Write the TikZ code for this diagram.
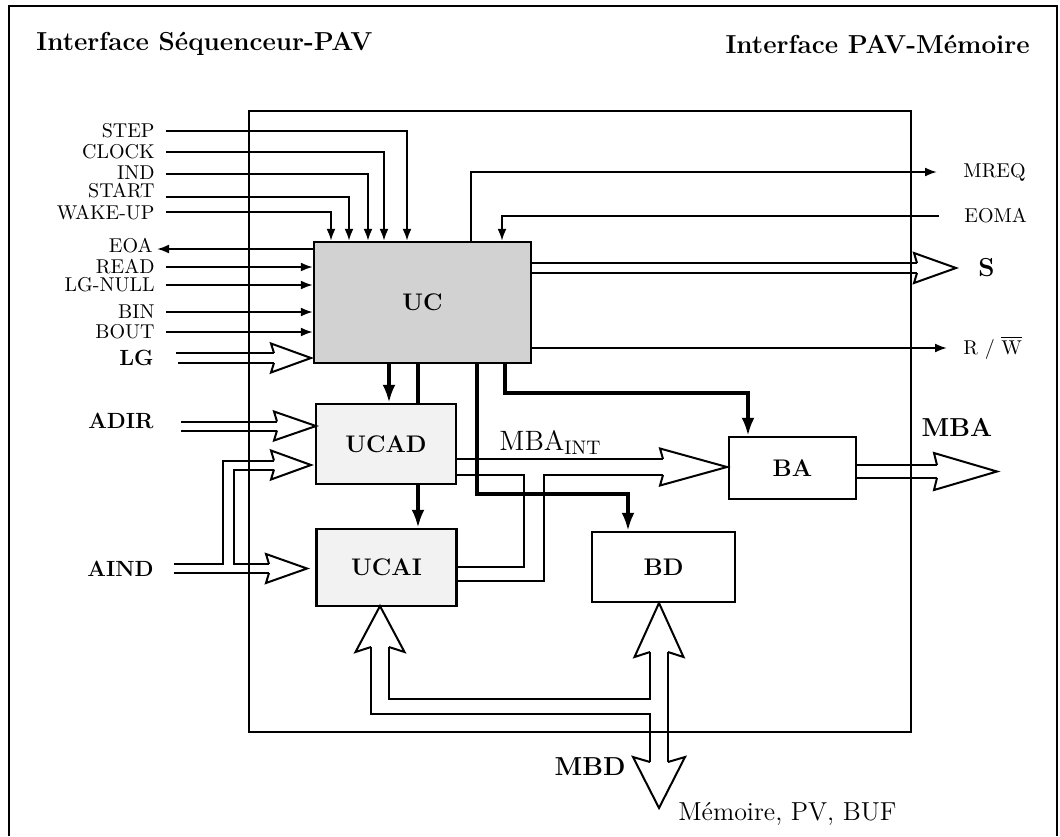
\documentclass[tikz,border=0pt]{standalone}
\usepackage{amsmath}
\usetikzlibrary{arrows.meta}

% 空心总线箭头（向右 / 向上 / 向下）
\newcommand{\busE}[5]{\draw[bus] ({#1},{#2-#4}) -- ({#1-3},{#2-#5}) -- ({#3},{#2}) -- ({#1-3},{#2+#5}) -- ({#1},{#2+#4});}
\newcommand{\busN}[5]{\draw[bus] ({#2-#4},{#1}) -- ({#2-#5},{#1+5}) -- ({#2},{#3}) -- ({#2+#5},{#1+5}) -- ({#2+#4},{#1});}
\newcommand{\busS}[5]{\draw[bus] ({#2-#4},{#1}) -- ({#2-#5},{#1-5}) -- ({#2},{#3}) -- ({#2+#5},{#1-5}) -- ({#2+#4},{#1});}

\begin{document}
\begin{tikzpicture}[x=0.5pt,y=-0.5pt,
    sig/.style={line width=1pt,-{Latex[length=6pt,width=4.5pt]}},
    ctl/.style={line width=2.2pt},
    ctlarr/.style={line width=2.2pt,-{Latex[length=9pt,width=6.5pt]}},
    bus/.style={line width=1pt,line join=miter},
    lbl/.style={font=\normalsize,inner sep=0pt},
    blbl/.style={font=\fontsize{11}{13}\selectfont\bfseries,inner sep=0pt},
    gros/.style={font=\fontsize{13}{15}\selectfont\bfseries,inner sep=0pt},
    blk/.style={draw,line width=1.2pt,inner sep=0pt,font=\fontsize{12}{14}\selectfont\bfseries}]
    \useasboundingbox (0,0) rectangle (1060,836);

    % 外框
    \draw[line width=1.2pt] (9,836) -- (9,6) -- (1057,6) -- (1057,836);

    % 标题
    \node[gros,anchor=west] (tseq) at (36,44) {Interface Séquenceur-PAV};
    \node[gros,anchor=east] (tmem) at (1030,44) {Interface PAV-Mémoire};

    % PAV 边框
    \draw[line width=1.1pt] (249,111) rectangle (911,732);

    % 模块
    \node[blk,fill=gray!35,minimum width=108.5pt,minimum height=60.5pt] (uc) at (422.5,302.5) {UC};
    \node[blk,fill=gray!10,minimum width=70pt,minimum height=40pt] (ucad) at (386,444) {UCAD};
    \node[blk,fill=gray!10,minimum width=70pt,minimum height=38.5pt] (ucai) at (386.5,567.5) {UCAI};
    \node[blk,minimum width=63.5pt,minimum height=31pt] (ba) at (792.5,468) {BA};
    \node[blk,minimum width=71.5pt,minimum height=35pt] (bd) at (663.5,567) {BD};

    % 上方输入信号
    \foreach \nom/\txt/\ly/\y/\x in {step/STEP/131/131/407, clock/CLOCK/152/152/384, ind/IND/173/174/368,
                                    start/START/191/197/349, wake/WAKE-UP/213/212/331}{
        \node[lbl,anchor=east] (\nom) at (155,\ly) {\txt};
        \draw[sig] (\nom.east |- 0,\y) ++(11,0) -| (uc.north -| \x,0);
    }

    % 左侧信号
    \node[lbl,anchor=east] (eoa) at (153,246) {EOA};
    \draw[sig] (uc.west |- 0,249) -- ([xshift=2pt]eoa.east |- 0,249);
    \foreach \nom/\txt/\y in {read/READ/267, lgnull/LG-NULL/285, bin/BIN/312, bout/BOUT/332}{
        \node[lbl,anchor=east] (\nom) at (155,\y) {\txt};
        \draw[sig] ([xshift=5.5pt]\nom.east) -- (\nom.east -| uc.west);
    }

    % LG 总线
    \node[blbl,anchor=east] (lg) at (154,358) {LG};
    \draw[bus] (176,353) -- (274,353) (178,363) -- (274,363);
    \busE{274}{358}{311}{5}{14.5}

    % 右侧信号
    \node[lbl,anchor=west] (mreq) at (963,172) {MREQ};
    \draw[sig] (uc.north -| 471,0) |- ([xshift=-13pt]mreq.west);
    \node[lbl,anchor=west] (eoma) at (964,216) {EOMA};
    \draw[sig] ([xshift=-12.5pt]eoma.west) -| (uc.north -| 502,0);
    \node[lbl,anchor=west] (rw) at (963,348) {R / $\overline{\mbox{W}}$};
    \draw[sig] (uc.east |- rw.west) -- ([xshift=-8pt]rw.west);

    % S 总线
    \node[gros,anchor=west] (s) at (978,268) {S};
    \draw[bus] (uc.east |- 0,263) -- (917,263) (uc.east |- 0,273) -- (917,273);
    \busE{917}{268}{956}{5}{15}

    % UC 控制线
    \draw[ctlarr] (uc.south -| 389,0) -- (ucad.north -| 389,0);
    \draw[ctl] (uc.south -| 418,0) -- (ucad.north -| 418,0);
    \draw[ctlarr] (ucad.south -| 418,0) -- (ucai.north -| 418,0);
    \draw[ctlarr] (uc.south -| 477,0) -- (477,494) -| (bd.north -| 628,0);
    \draw[ctlarr] (uc.south -| 505,0) -- (505,393) -| (ba.north -| 748,0);

    % ADIR 总线
    \node[blbl,anchor=east] (adir) at (154,421) {ADIR};
    \draw[bus] (181,421.5) -- (277,421.5) (181,430.5) -- (277,430.5);
    \busE{277}{426}{316}{4.5}{14.5}

    % AIND 总线
    \node[blbl,anchor=east] (aind) at (154,569) {AIND};
    \draw[bus] (174,564) -- (223,564) -- (223,460.5) -- (274,460.5);
    \draw[bus] (274,469.5) -- (234,469.5) -- (234,564) -- (269,564);
    \draw[bus] (174,573) -- (269,573);
    \busE{274}{465}{311}{4.5}{14.5}
    \busE{269}{568.5}{307}{4.5}{14.5}

    % MBA_INT 总线
    \node[font=\fontsize{14}{16}\selectfont,anchor=base west,inner sep=0pt] (mbaint) at (499,450) {MBA\textsubscript{INT}};
    \draw[bus] (ucad.east |- 0,459) -- (663,459);
    \draw[bus] (ucad.east |- 0,475) -- (524,475) -- (524,567) -- (ucai.east |- 0,567);
    \draw[bus] (ucai.east |- 0,581) -- (544,581) -- (544,475) -- (663,475);
    \busE{663}{467}{727}{8}{18.5}

    % MBA 总线
    \node[gros] (mba) at (957,427) {MBA};
    \draw[bus] (ba.east |- 0,465) -- (937,465) (ba.east |- 0,478) -- (937,478);
    \busE{937}{471.5}{997}{6.5}{18.5}

    % MBD 总线
    \busN{647}{380}{606}{9}{24.5}
    \busN{652}{659}{603}{9}{24.5}
    \draw[bus] (371,647) -- (371,714) -- (650,714) -- (650,762);
    \draw[bus] (389,647) -- (389,699) -- (650,699) -- (650,652);
    \draw[bus] (668,652) -- (668,762);
    \busS{762}{659}{808}{9}{26}
    \node[gros] (mbd) at (590,767) {MBD};
    \node[font=\fontsize{13}{15}\selectfont,anchor=west,inner sep=0pt] (mem) at (678,814) {Mémoire, PV, BUF};
\end{tikzpicture}
\end{document}
